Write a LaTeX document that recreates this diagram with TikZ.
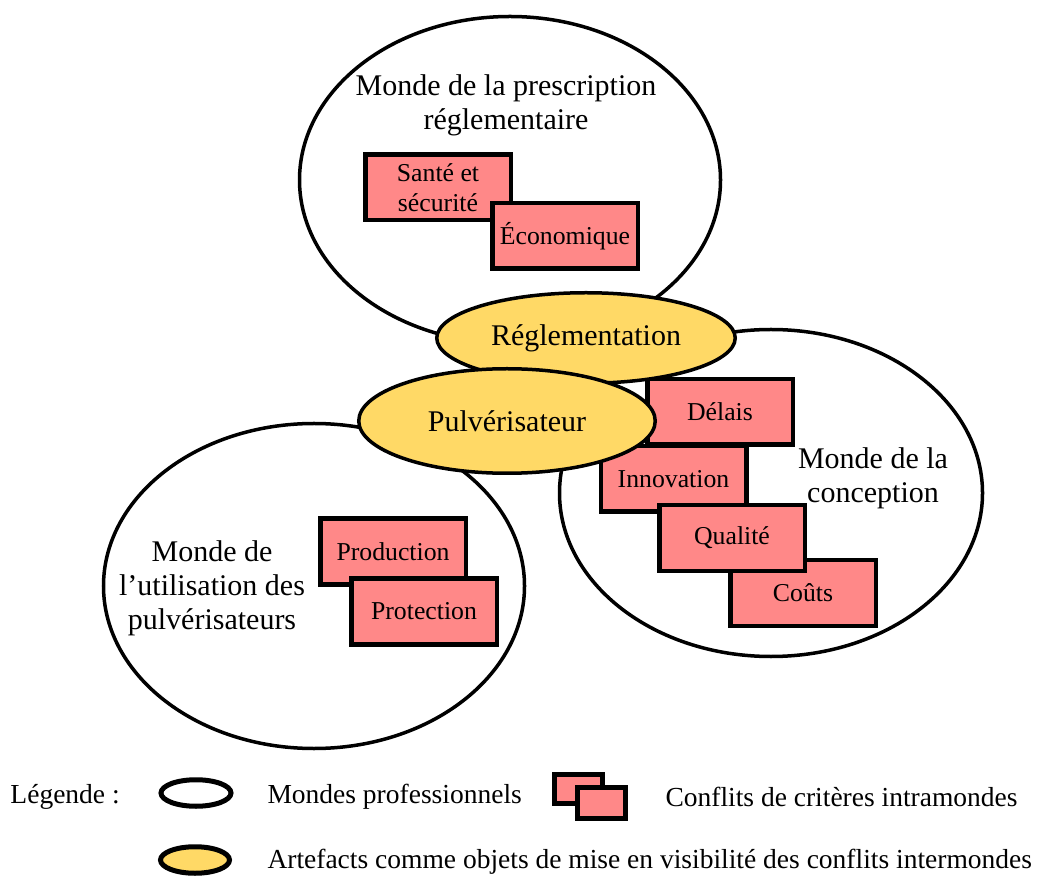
\documentclass[tikz,border=0pt]{standalone}
\usepackage{fontspec}
\setmainfont{Liberation Serif}
\usetikzlibrary{shapes.geometric}
\definecolor{crit}{RGB}{255,136,136}
\definecolor{artef}{RGB}{255,217,102}
\tikzset{
  monde/.style={ellipse, draw=black, fill=white, line width=1.4pt, inner sep=0pt},
  artefact/.style={ellipse, draw=black, fill=artef, line width=1.4pt, inner sep=0pt,
    font=\fontsize{12}{13.6}\selectfont},
  critbox/.style={rectangle, draw=black, fill=crit, line width=1.8pt, inner sep=0pt,
    minimum width=58.2pt, minimum height=26.2pt, align=center,
    font=\fontsize{10.3}{12}\selectfont},
  mtext/.style={inner sep=0pt, align=center, font=\fontsize{12}{13.6}\selectfont},
  legtext/.style={inner sep=0pt, anchor=west, font=\fontsize{11}{13}\selectfont},
}
\begin{document}
\begin{tikzpicture}[x=0.4pt,y=-0.4pt]
\useasboundingbox (0,0) rectangle (1045,877);
% professional worlds
\node[monde, minimum width=168.4pt, minimum height=130.8pt] (wtop) at (510,180) {};
\node[monde, minimum width=169.2pt, minimum height=130.8pt] (wright) at (771,493) {};
\node[monde, minimum width=168.4pt, minimum height=130pt] (wleft) at (314,586) {};
\node[mtext] (ttop) at (506,105) {Monde de la prescription\\réglementaire};
\node[mtext] (tright) at (873,478) {Monde de la\\conception};
\node[mtext] (tleft) at (212,588) {Monde de\\l’utilisation des\\pulvérisateurs};
% criteria boxes
\node[critbox] (sante) at (438,187.5) {Santé et\\sécurité};
\node[critbox] (eco) at (565,236) {Économique};
\node[critbox] (prod) at (393,551.5) {Production};
\node[critbox] (prot) at (424,611.5) {Protection};
\node[critbox] (innov) at (673.5,479) {Innovation};
\node[critbox] (couts) at (803,593) {Coûts};
\node[critbox] (delais) at (720,412) {Délais};
\node[critbox] (qual) at (732,538) {Qualité};
% artefacts
\node[artefact, minimum width=119.4pt, minimum height=36.2pt] (regl) at (586,338) {Réglementation};
\node[artefact, minimum width=118.6pt, minimum height=41.8pt] (pulv) at (507,421) {Pulvérisateur};
% legend
\node[legtext] (leg) at (10,797) {Légende :};
\node[ellipse, draw=black, fill=white, line width=2pt, minimum width=28pt, minimum height=10.6pt, inner sep=0pt] (legmonde) at (196,793) {};
\node[legtext] (legmondet) at (267,797) {Mondes professionnels};
\node[rectangle, draw=black, fill=crit, line width=2pt, minimum width=19.4pt, minimum height=11.6pt, inner sep=0pt] (legb1) at (578.5,789) {};
\node[rectangle, draw=black, fill=crit, line width=2pt, minimum width=19.4pt, minimum height=12.4pt, inner sep=0pt] (legb2) at (601.5,802.5) {};
\node[legtext] (legcritt) at (665,797) {Conflits de critères intramondes};
\node[ellipse, draw=black, fill=artef, line width=2pt, minimum width=27.6pt, minimum height=10.6pt, inner sep=0pt] (legart) at (195,860) {};
\node[legtext] (legartt) at (267,862) {Artefacts comme objets de mise en visibilité des conflits intermondes};
\end{tikzpicture}
\end{document}
